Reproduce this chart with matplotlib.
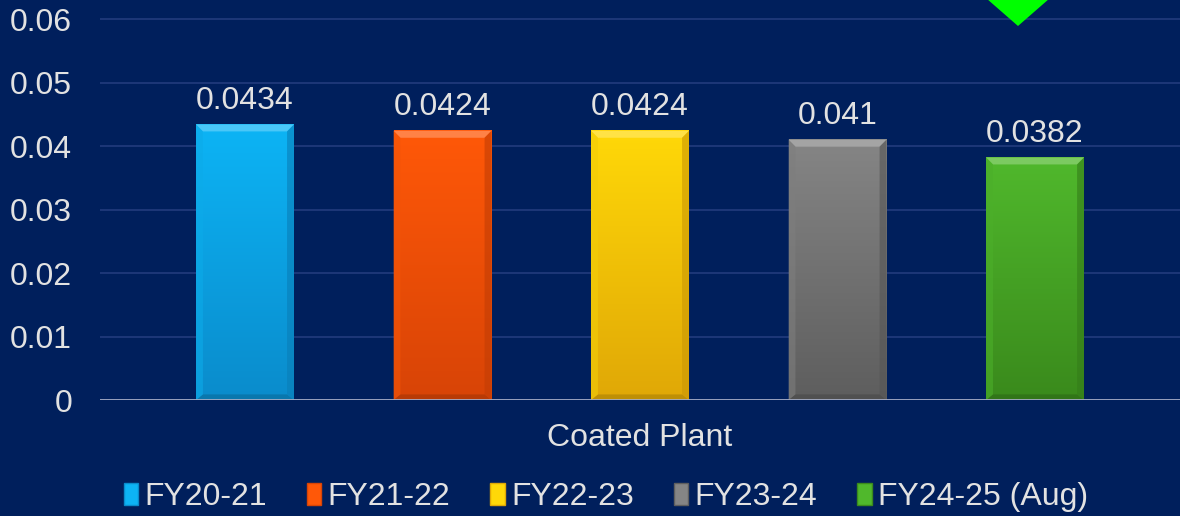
import numpy as np
import matplotlib
matplotlib.use("Agg")
import matplotlib.pyplot as plt
from matplotlib.patches import Polygon, Patch
from matplotlib.colors import to_rgb

plt.rcParams['font.family'] = ['Liberation Sans', 'DejaVu Sans']

series = ['FY20-21', 'FY21-22', 'FY22-23', 'FY23-24', 'FY24-25 (Aug)']
values = [0.0434, 0.0424, 0.0424, 0.041, 0.0382]
labels = ['0.0434', '0.0424', '0.0424', '0.041', '0.0382']
category = 'Coated Plant'
yticks = [0, 0.01, 0.02, 0.03, 0.04, 0.05, 0.06]
ytick_labels = ['0', '0.01', '0.02', '0.03', '0.04', '0.05', '0.06']

top_cols = ['#0db4f5', '#ff5808', '#ffd808', '#858585', '#50b82c']
bot_cols = ['#0a8ccc', '#d84406', '#e0a806', '#5e5e5e', '#3a8a1c']

bg = '#001f5c'
txt = '#e2e2e2'
fs = 23

fig = plt.figure(figsize=(11.8, 5.16), dpi=100, facecolor=bg)
ax = fig.add_axes([100/1180, 116/516, 1080/1180, 400/516], facecolor=bg)

x = np.arange(len(values))
w = 0.496
ax.set_xlim(-0.734, 4.734)
ax.set_ylim(0, 0.063)

def mix(c, other, t):
    a = np.array(to_rgb(c)); b = np.array(to_rgb(other))
    return tuple(a * (1 - t) + b * t)

bx = 0.035
by = 0.0011
for i, v in enumerate(values):
    x0, x1 = x[i] - w/2, x[i] + w/2
    # vertical gradient body, light at top
    c0 = np.array(to_rgb(top_cols[i])); c1 = np.array(to_rgb(bot_cols[i]))
    grad = np.linspace(0, 1, 64)[:, None, None]
    img = c0 * (1 - grad) + c1 * grad
    ax.imshow(img, extent=(x0, x1, 0, v), origin='upper', aspect='auto', zorder=2,
              interpolation='bilinear')
    # bevels
    ax.add_patch(Polygon([(x0, v), (x1, v), (x1-bx, v-by), (x0+bx, v-by)],
                         closed=True, fc=mix(top_cols[i], 'white', 0.25), ec='none', zorder=3))
    ax.add_patch(Polygon([(x0, 0), (x1, 0), (x1-bx, by*0.8), (x0+bx, by*0.8)],
                         closed=True, fc=mix(bot_cols[i], 'black', 0.15), ec='none', zorder=3))
    ax.add_patch(Polygon([(x0, v), (x0+bx, v-by), (x0+bx, by*0.8), (x0, 0)],
                         closed=True, fc=mix(top_cols[i], 'black', 0.05), ec='none', zorder=3,
                         alpha=0.6))
    ax.add_patch(Polygon([(x1, v), (x1-bx, v-by), (x1-bx, by*0.8), (x1, 0)],
                         closed=True, fc=mix(bot_cols[i], 'black', 0.1), ec='none', zorder=3,
                         alpha=0.6))
    ax.text(x[i], v + 0.0014, labels[i], ha='center', va='bottom', color=txt, fontsize=fs, zorder=4)

ax.set_yticks(yticks)
ax.set_yticklabels(ytick_labels, color=txt, fontsize=fs)
ax.tick_params(axis='y', length=0, pad=20)
ax.set_xticks([])
ax.grid(axis='y', color='#20397a', linewidth=1.3, zorder=0)
ax.set_axisbelow(True)
for s in ['top', 'right', 'left', 'bottom']:
    ax.spines[s].set_visible(False)
ax.axhline(0, color='#a4abc4', linewidth=2, zorder=5)

fig.text(640/1180, 1 - 438/516, category, ha='center', va='center', color=txt, fontsize=fs)

# green down arrow (decoration, partly cut off)
ax.add_patch(Polygon([(0.78, 1.1), (0.92, 1.1), (0.85, 0.935)], closed=True,
                     transform=ax.transAxes, fc='#00ff00', ec='none', zorder=6, clip_on=True))

handles = [Patch(facecolor=top_cols[i], edgecolor=bot_cols[i]) for i in range(len(series))]
fig.legend(handles, series, loc='center', bbox_to_anchor=(606/1180, 1 - 497/516), ncol=5,
           frameon=False, fontsize=fs, labelcolor=txt, handlelength=0.45, handleheight=0.7,
           handletextpad=0.2, columnspacing=1.25)

fig.savefig('out.png', dpi=100, facecolor=bg)
